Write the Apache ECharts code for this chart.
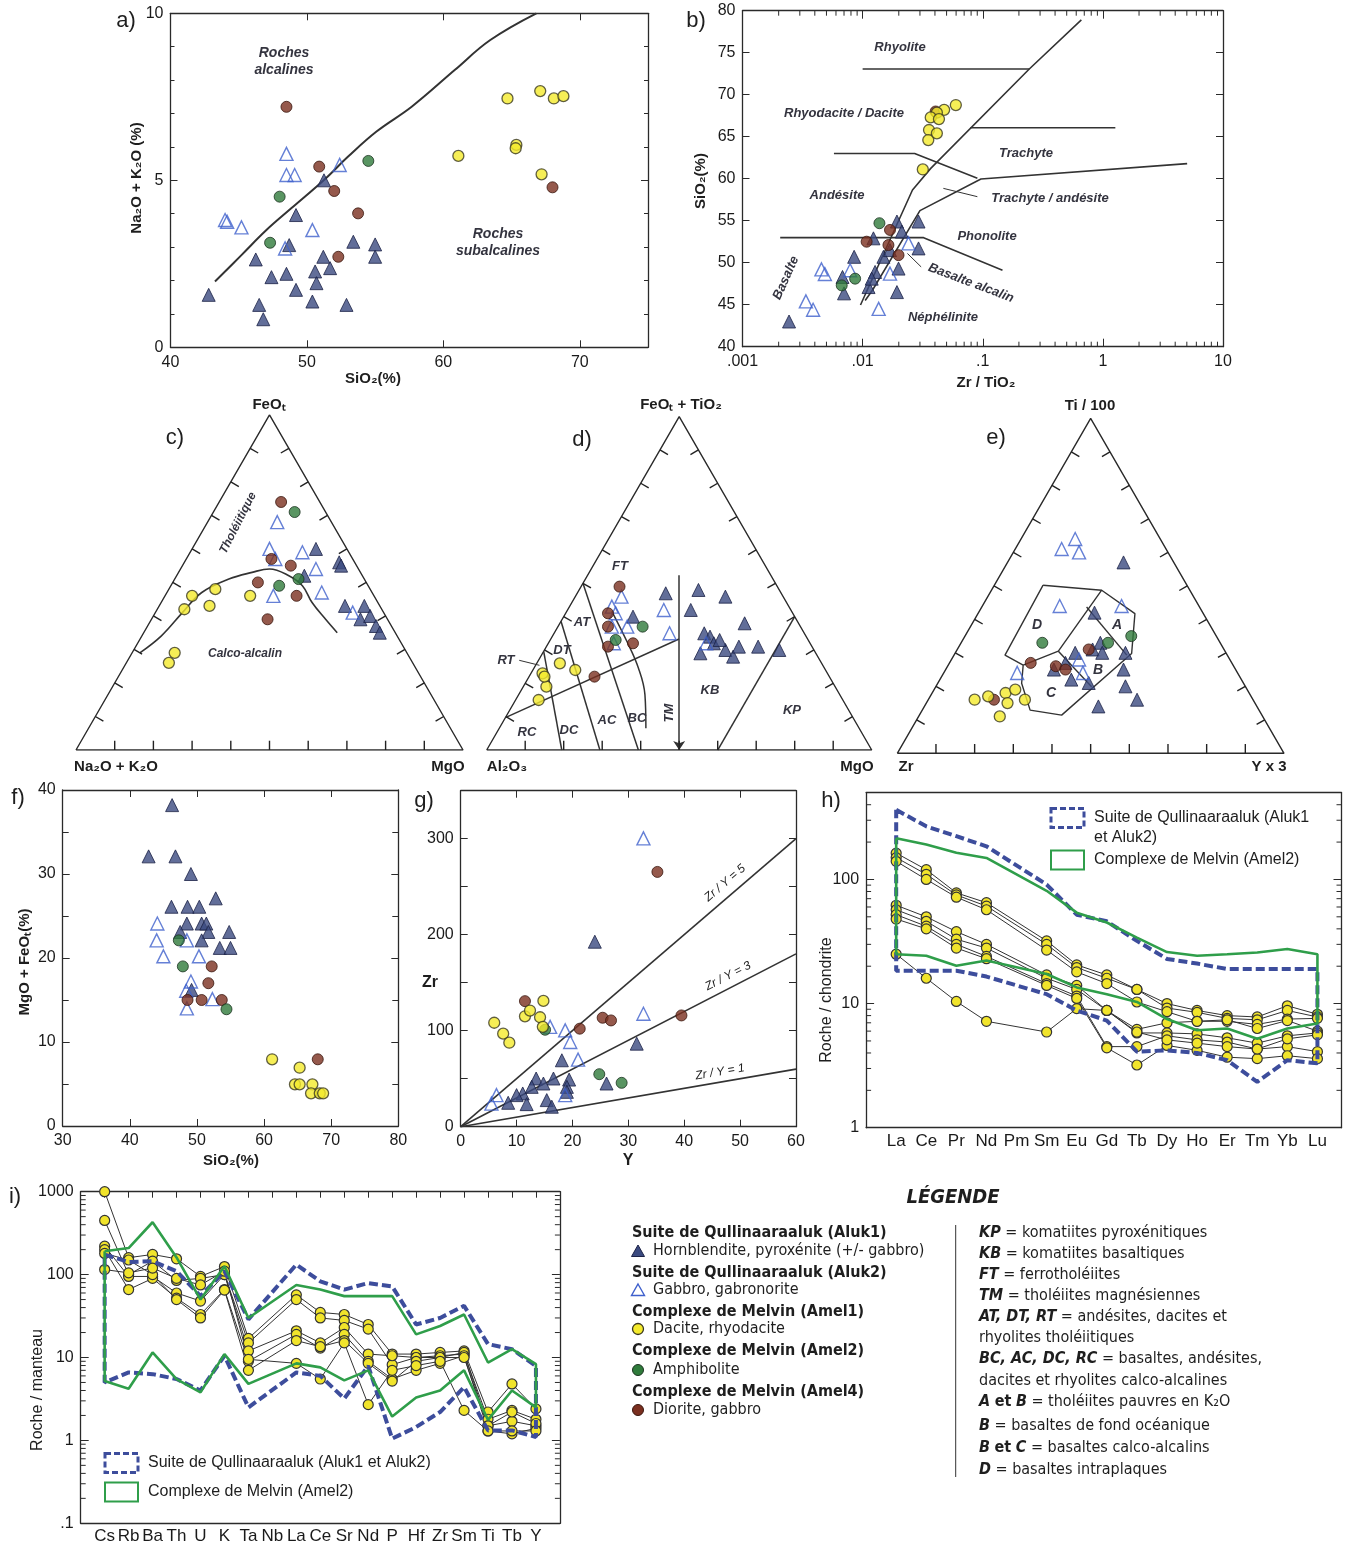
<!DOCTYPE html>
<html><head><meta charset="utf-8">
<script src="https://cdn.jsdelivr.net/npm/echarts@6/dist/echarts.min.js"></script>
<style>html,body{margin:0;padding:0;background:#fff}#c{width:1353px;height:1547px}</style>
</head><body><div id="c"></div>
<script>
// ================= DATA =================
// a) SiO2 vs Na2O+K2O
const aAluk1 = [[42.8,1.57],[46.25,2.63],[46.5,1.27],[46.8,0.84],[47.4,2.1],[48.5,2.2],[48.7,3.06],[49.2,3.96],[49.2,1.72],[50.4,1.37],[50.6,2.27],[50.7,1.92],[51.2,2.71],[51.7,2.37],[51.25,5.0],[52.9,1.27],[53.4,3.16],[55.0,3.08],[55.0,2.71]];
const aAluk2 = [[44.0,3.81],[44.15,3.76],[45.2,3.59],[48.5,5.79],[48.5,5.16],[49.1,5.16],[50.4,3.51],[52.4,5.46],[48.4,2.96]];
const aAmel1 = [[61.1,5.73],[64.7,7.45],[65.35,6.06],[65.3,5.96],[67.1,7.67],[68.1,7.45],[68.8,7.52],[67.2,5.18]];
const aAmel2 = [[54.5,5.58],[48.0,4.51],[47.3,3.13]];
const aAmel4 = [[48.5,7.2],[50.9,5.41],[52.0,4.68],[53.75,4.01],[52.3,2.71],[68.0,4.79]];
const aDivide = [[43.26,1.97],[45.2,2.76],[47.03,3.51],[48.85,4.16],[51.25,5.01],[53.02,5.71],[55.1,6.46],[57.7,7.21],[60.83,8.3],[63.44,9.2],[66.82,10.0]];

// b) Zr/TiO2 vs SiO2
const bAluk1 = [[0.00244,43.0],[0.0070,46.35],[0.0068,48.3],[0.0085,50.7],[0.0193,54.9],[0.0212,53.7],[0.0292,54.9],[0.0292,51.7],[0.0149,50.7],[0.0199,49.3],[0.0127,48.9],[0.0112,47.1],[0.0193,46.5],[0.0169,51.5],[0.0119,48.1],[0.0123,52.9]];
const bAluk2 = [[0.0136,44.5],[0.0241,52.3],[0.0169,48.7],[0.00787,49.1],[0.00454,49.2],[0.00485,48.65],[0.00337,45.4],[0.00387,44.4]];
const bAmel1 = [[0.0597,68.77],[0.0477,68.2],[0.0415,67.86],[0.0369,67.3],[0.0432,67.1],[0.0357,65.8],[0.0415,65.4],[0.0352,64.6],[0.0317,61.1]];
const bAmel2 = [[0.0138,54.7],[0.00866,48.1],[0.0067,47.3]];
const bAmel4 = [[0.0405,68.0],[0.0108,52.5],[0.0169,53.9],[0.0164,52.1],[0.0199,50.9]];
const bBound1 = [[0.662,78.9],[0.244,73.06],[0.0369,61.23],[0.026,58.65],[0.0096,44.96]];
const bBound2 = [[5.03,61.8],[0.0966,59.96],[0.030,56.2],[0.0121,46.75],[0.0105,45.5]];
const bBound3 = [[0.00577,63.0],[0.0271,63.0],[0.0902,60.04]];
const bBound4 = [[0.00206,52.98],[0.0322,52.98],[0.146,49.1]];
const bBound5 = [[0.01,73.06],[0.244,73.06]];
const bBound6 = [[0.0787,66.07],[1.27,66.07]];
const bPointer1 = [[0.047,58.85],[0.0902,57.86]];
const bPointer2 = [[0.0236,51.1],[0.0307,49.5]];

// c) AFM ternary [FeOt, Na2O+K2O, MgO]
const cAluk1 = [[60,8,32],[52,15,33],[56,4,40],[55,4,41],[43,9,48],[43,4,53],[39,7,54],[40,4,56],[37,4,59],[35,4,61]];
const cAluk2 = [[68,14,18],[60,20,20],[57,20,23],[59,12,29],[54,11,35],[46,26,28],[47,13,40],[41,8,51]];
const cAmel1 = [[48,40,12],[46,47,7],[42,51,7],[43,44,13],[46,32,22],[29,60,11],[26,63,11]];
const cAmel2 = [[71,8,21],[49,23,28],[51,17,32]];
const cAmel4 = [[74,10,16],[55,17,28],[50,28,22],[46,20,34],[39,31,30],[57,21,22]];
const cCurve = [[29,69,2],[34,61,5],[41,52,7],[47,44,9],[51,35,14],[53,28,19],[54,23,23],[52,19,29],[49,17,34],[44,17,39],[39,16,45],[35,15,50]];

// d) Jensen ternary [FeOt+TiO2, Al2O3, MgO]
const dAluk1 = [[47,30,23],[48,21,31],[46,15,39],[42,26,32],[40,42,18],[38,14,48],[35,26,39],[34,25,41],[32,25,43],[29,30,41],[30,23,47],[28,22,50],[31,19,50],[31,14,55],[30,9,61],[33,23,44]];
const dAluk2 = [[43,46,11],[46,42,12],[41,46,13],[37,49,14],[37,45,18],[32,51,17],[42,33,25],[35,35,30],[32,27,41]];
const dAmel1 = [[23,74,3],[19,75,6],[15,79,6],[26,68,6],[24,65,11],[22,74,4]];
const dAmel2 = [[37,41,22],[33,50,17]];
const dAmel4 = [[49,41,10],[41,48,11],[31,53,16],[32,46,22],[22,61,17],[37,50,13]];
const dTM = [[52.4,23.9,23.7],[0,50,50]];
const dDiag = [[9.7,90.3,0],[33.3,33.4,33.3]];
const dKP = [[0,40,60],[40,0,60]];
const dLineRC = [[29.6,70.4,0],[0,80.5,19.5]];
const dLineDC = [[38.6,61.4,0],[0,70.6,29.4]];
const dLineAC = [[50,50,0],[0,60.6,39.4]];
const dLineBC = [[41.6,46.7,11.7],[32.6,47.3,20.1],[24.6,48.3,27.1],[16.6,50.6,32.8],[6.5,55.4,38.1]];
const dPointerRT = [[26.9,78.1,-5],[25.4,73.6,1]];

// e) Pearce & Cann ternary [Ti/100, Zr, Y x 3]
const eAluk1 = [[57,13,30],[42,28,30],[33,31,36],[30,39,31],[31,34,35],[30,26,44],[25,47,28],[22,44,34],[21,40,39],[25,29,46],[20,31,49],[16,30,54],[14,41,45],[27,43,30],[30,32,38]];
const eAluk2 = [[64,22,14],[61,27,12],[60,23,17],[44,36,20],[44,20,36],[24,57,19],[28,39,33],[24,40,36]];
const eAmel1 = [[16,72,12],[17,68,15],[18,63,19],[19,60,21],[16,59,25],[15,64,21],[11,68,21]];
const eAmel2 = [[33,46,21],[33,29,38],[35,22,43]];
const eAmel4 = [[27,52,21],[31,35,34],[26,46,28],[16,67,17],[25,44,31]];
const eOuter = [[50.2,37.2,12.6],[48.7,22.8,28.5],[41.7,17.7,40.6],[29.8,24.5,45.7],[11.4,51.8,36.8],[12.9,59.2,27.9],[20.9,57.4,21.7],[26.3,54.3,19.4]];
const eFieldD = [[50.2,37.2,12.6],[29.3,57.5,13.2],[26.3,54.3,19.4],[30.5,43.1,26.4],[48.7,22.8,28.5]];
const eLineAB = [[43.7,29.2,27.1],[29.3,26.0,44.7]];
const eLineBC = [[30.5,43.1,26.4],[19.9,39.8,40.3]];
const ternTicks = [10,20,30,40,50,60,70,80,90];

// f) SiO2 vs MgO+FeOt
const fAluk1 = [[46.3,38.2],[42.8,32.1],[46.8,32.1],[49.1,30.0],[46.2,26.1],[48.6,26.1],[50.35,26.1],[52.8,27.1],[48.5,24.1],[50.7,24.1],[51.4,24.1],[47.5,23.1],[51.7,23.1],[54.8,23.1],[50.7,22.1],[53.4,21.2],[55.0,21.2],[49.2,16.2]];
const fAluk2 = [[44.1,24.1],[44.0,22.1],[45.0,20.2],[48.5,22.1],[50.3,20.2],[49.1,17.2],[48.4,16.1],[48.5,14.0],[52.3,15.1]];
const fAmel1 = [[61.2,7.94],[65.3,6.94],[64.6,4.96],[65.3,4.96],[67.2,4.96],[67.0,3.89],[68.3,3.89],[68.8,3.89]];
const fAmel2 = [[47.3,22.1],[47.9,19.0],[54.4,13.9]];
const fAmel4 = [[52.2,19.0],[51.7,17.0],[48.6,15.0],[50.7,15.0],[53.7,15.0],[68.0,7.94]];

// g) Y vs Zr
const gAluk1 = [[24.0,192.7],[18.1,69.2],[31.5,86.5],[26.1,45],[13.5,50.2],[16.6,50.2],[19.4,49.1],[11.1,34.6],[8.5,24.9],[11.8,23.5],[15.4,27.7],[16.3,20.8],[19.0,41.5],[19.0,36.3],[12.7,41.5],[10.0,32.9],[14.8,45.0]];
const gAluk2 = [[32.7,300.3],[16.0,104],[18.7,100.3],[19.6,88.2],[21.0,69.9],[32.7,117.6],[6.4,32.9],[5.5,24],[18.7,32.9]];
const gAmel1 = [[6.0,108.3],[7.6,96.9],[8.7,87.5],[11.5,115],[12.4,121],[14.2,114],[14.8,131],[14.7,104]];
const gAmel2 = [[15.1,101],[24.8,54.7],[28.8,45.7]];
const gAmel4 = [[11.5,130.8],[21.3,102.1],[25.4,113.5],[26.9,110.7],[35.2,265.4],[39.5,115.9]];
const gRatios = [5, 3, 1];

// h) REE / chondrite
const REE = ['La','Ce','Pr','Nd','Pm','Sm','Eu','Gd','Tb','Dy','Ho','Er','Tm','Yb','Lu'];
const hS1 = [163,120,78,65,null,32,20.5,17,13,10,8.8,8,7.8,9.6,8.2];
const hS2 = [150,110,75,61,null,30,19.5,16,13,9.2,8.5,7.6,7.4,8.8,7.8];
const hS3 = [140,100,72,57,null,27,18,14.5,10.3,8.6,7.2,7.2,6.8,7.5,7.6];
const hS4 = [62,50,38,30,null,17,14,8.8,6.2,7.0,7.2,7.4,6.3,7.3,6.0];
const hS5 = [57,46,33,28,null,16,13,8.8,5.8,5.8,5.7,5.3,4.8,5.5,5.8];
const hS6 = [52,42,30,24,null,14.5,11.5,4.5,4.5,5.5,5.1,4.9,4.3,4.5,4.1];
const hS7 = [48,40,28,23,null,14,11,4.4,3.2,4.6,4.2,3.7,3.6,3.8,3.6];
const hS8 = [25,16,10.4,7.2,null,5.9,9.1,8.8,5.9,5.1,4.8,4.5,4.3,5.2,5.6];
const hQulUp = [364,268,223,185,null,91,52,46,32,22.9,21,19,19,19,19];
const hQulLo = [18.4,18.4,18.4,16.5,null,11.9,8.8,7.3,4.1,4.2,4.0,3.5,2.34,3.5,3.3];
const hMelUp = [215,191,164,149,null,81,54,45,34,26,24.3,25,25.8,27.5,25];
const hMelLo = [25,24.3,20.2,22.2,null,17.3,13.5,11.9,10.3,7.5,6.1,6.3,5.2,6.3,6.9];

// i) spider / primitive mantle
const SPK = ['Cs','Rb','Ba','Th','U','K','Ta','Nb','La','Ce','Sr','Nd','P','Hf','Zr','Sm','Ti','Tb','Y'];
const iS1 = [1000,160,175,155,95,125,17,null,57,35,33,25,11,11,11.5,12,2.2,4.8,2.4];
const iS2 = [450,100,145,85,90,100,15,null,50,30,28,22,8.2,10,10.5,11,1.8,2.3,1.8];
const iS3 = [220,95,95,60,48,100,12,null,21,15,23,11,10.5,10,10,11.5,1.5,1.7,1.5];
const iS4 = [200,66,90,52,33,66,9,null,19,13,19,9,5.5,7,8.5,10.5,1.3,1.2,1.4];
const iS5 = [180,150,100,50,30,65,7,null,16,13.5,16,8.5,5.2,9,10,10,1.5,2.2,1.6];
const iS6 = [115,105,120,90,75,110,9.5,null,8.5,5.5,15,2.7,7,8,9,2.3,1.3,1.3,1.3];
const iQulUp = [174,142,145,110,55,110,28.8,null,132,83,66,79,72,25,30,42,14.5,12.6,7.9];
const iQulLo = [5.0,6.6,6.3,5.5,4.0,10.5,2.5,null,6.6,6.0,3.2,7.9,1.05,1.45,2.2,4.4,1.32,1.32,1.1];
const iMelUp = [191,209,428,161,50,126,30,null,75,66,55,55,55,19,24,33,8.7,12.6,8.3];
const iMelLo = [5.2,4.2,11.5,5.5,3.8,11,4.8,null,8.5,7.6,5.3,7.0,1.94,3.3,4.0,7.0,1.77,4.0,2.5];

// ================= BUILD =================
const FONT = "'Liberation Sans', Arial, Helvetica, sans-serif";
const NARROW = "'Liberation Sans Narrow', 'Arial Narrow', 'DejaVu Sans Condensed', 'Liberation Sans', sans-serif";
const S3 = Math.sqrt(3) / 2;
const LINE = '#2a2a2a';
const STY = {
  aluk1: {symbol:'triangle', symbolSize:13, itemStyle:{color:'#3b4a80', borderColor:'#1c2246', borderWidth:1}},
  aluk2: {symbol:'triangle', symbolSize:13, itemStyle:{color:'rgba(255,255,255,0)', borderColor:'#3f60cc', borderWidth:1.4}},
  amel1: {symbol:'circle', symbolSize:11, itemStyle:{color:'#f4ea2c', borderColor:'#3a3820', borderWidth:1.3}},
  amel2: {symbol:'circle', symbolSize:11, itemStyle:{color:'#2f7b3b', borderColor:'#1b3320', borderWidth:1}},
  amel4: {symbol:'circle', symbolSize:11, itemStyle:{color:'#7a2f1f', borderColor:'#3a160e', borderWidth:1}},
};
const grids = [], xAxis = [], yAxis = [], series = [], gfx = [];
function grid(l, t, w, h) { grids.push({left:l, top:t, width:w, height:h, containLabel:false}); return grids.length - 1; }
function push(arr, o) { arr.push(o); return arr.length - 1; }
const tick = (len, show = true) => ({show, inside:true, length:len, lineStyle:{color:LINE, width:1}});
const aline = {show:true, onZero:false, lineStyle:{color:LINE, width:1.3}};
const lab = (o = {}) => Object.assign({show:true, color:'#1a1a1a', fontSize:16, fontFamily:FONT, margin:7}, o);
const noSplit = {show:false};
function cart(g, xo, yo, topTick) {
  const base = {gridIndex:g, splitLine:noSplit, minorSplitLine:noSplit, axisLine:aline};
  const xi = push(xAxis, Object.assign({}, base, {position:'bottom'}, xo));
  const xt = Object.assign({}, base, {position:'top'}, xo, {axisLabel:{show:false}});
  if (topTick) xt.axisTick = topTick;
  push(xAxis, xt);
  const yi = push(yAxis, Object.assign({}, base, {position:'left'}, yo));
  push(yAxis, Object.assign({}, base, {position:'right'}, yo, {axisLabel:{show:false}}));
  return [xi, yi];
}
function scat(xi, yi, data, sty) {
  return Object.assign({type:'scatter', xAxisIndex:xi, yAxisIndex:yi, data, z:4, silent:true}, JSON.parse(JSON.stringify(sty)));
}
function poly(xi, yi, pts, color, width, type, z, smooth) {
  return {type:'line', xAxisIndex:xi, yAxisIndex:yi, data:pts, symbol:'none', showSymbol:false, silent:true,
    smooth:smooth || false, lineStyle:{color, width, type:type || 'solid'}, z:z || 2};
}
function logFmt(v) { const e = Math.round(Math.log10(v)); return e < 0 ? '.' + '0'.repeat(-e - 1) + '1' : String(Math.round(Math.pow(10, e))); }
function logMinor(xi, yi, dir, eRange, maxV, other, len) {
  const vals = [];
  for (let e = eRange[0]; e < eRange[1]; e++) for (let k = 2; k <= 9; k++) { const v = k * Math.pow(10, e); if (v < maxV * 0.999) vals.push(v); }
  return {type:'custom', xAxisIndex:xi, yAxisIndex:yi, silent:true, z:6, clip:false,
    data: vals.map(v => dir === 'x' ? [v, other[0]] : [other[0], v]),
    renderItem: (params, api) => {
      const v = api.value(dir === 'x' ? 0 : 1);
      const st = {stroke:LINE, lineWidth:1};
      if (dir === 'x') {
        const a = api.coord([v, other[0]]), b = api.coord([v, other[1]]);
        return {type:'group', children:[
          {type:'line', shape:{x1:a[0], y1:a[1], x2:a[0], y2:a[1] - len}, style:st},
          {type:'line', shape:{x1:b[0], y1:b[1], x2:b[0], y2:b[1] + len}, style:st}]};
      }
      const a = api.coord([other[0], v]), b = api.coord([other[1], v]);
      return {type:'group', children:[
        {type:'line', shape:{x1:a[0], y1:a[1], x2:a[0] + len, y2:a[1]}, style:st},
        {type:'line', shape:{x1:b[0], y1:b[1], x2:b[0] - len, y2:b[1]}, style:st}]};
    }};
}
function tern(p) { const s = p[0] + p[1] + p[2]; const tt = p[0] / s, rr = p[2] / s; return [rr + tt / 2, tt * S3]; }
function ternGrid(l, baseY, w) {
  const h = w * S3; const g = grid(l, baseY - h, w, h);
  const xi = push(xAxis, {gridIndex:g, type:'value', min:0, max:1, show:false});
  const yi = push(yAxis, {gridIndex:g, type:'value', min:0, max:S3, show:false});
  series.push(poly(xi, yi, [[0,100,0],[0,0,100],[100,0,0],[0,100,0]].map(tern), LINE, 1.4));
  // edge ticks every 10 %, mapped with the same linear transform as this grid's axes
  const toPx = p => [l + p[0] * w, baseY - (p[1] / S3) * h];
  const TK = 0.024;
  ternTicks.forEach(t => {
    const pb = tern([0, 100 - t, t]), pl = tern([t, 100 - t, 0]), pr = tern([t, 0, 100 - t]);
    [[pb, [pb[0], pb[1] + TK]], [pl, [pl[0] + S3 * TK, pl[1] - 0.5 * TK]], [pr, [pr[0] - S3 * TK, pr[1] - 0.5 * TK]]].forEach(seg => {
      const a = toPx(seg[0]), b = toPx(seg[1]);
      gfx.push({type:'line', silent:true, z:90, shape:{x1:a[0], y1:a[1], x2:b[0], y2:b[1]}, style:{stroke:'#222', lineWidth:1.4}});
    });
  });
  return [xi, yi];
}
function groups(xi, yi, g1, g2, m1, m2, m4, map) {
  const f = map || (p => p);
  series.push(scat(xi, yi, g1.map(f), STY.aluk1));
  series.push(scat(xi, yi, g2.map(f), STY.aluk2));
  series.push(scat(xi, yi, m4.map(f), STY.amel4));
  series.push(scat(xi, yi, m2.map(f), STY.amel2));
  series.push(scat(xi, yi, m1.map(f), STY.amel1));
}
function T(x, y, text, o = {}) {
  const st = {text, fill:o.color || '#1e1e1e', fontSize:o.size || 16, fontWeight:o.bold ? 'bold' : 'normal',
    fontStyle:o.italic ? 'italic' : 'normal', fontFamily:o.family || FONT,
    align:o.align || 'center', verticalAlign:'middle', textAlign:o.align || 'center', textVerticalAlign:'middle'};
  if (o.lh) st.lineHeight = o.lh;
  if (o.rich) st.rich = o.rich;
  gfx.push({type:'text', x, y, rotation:o.rot || 0, silent:true, z:100, style:st});
}

// ---- a ----
{
  const g = grid(170.5, 13.3, 477.5, 334);
  const [xi, yi] = cart(g,
    {type:'value', min:40, max:75, interval:10, axisTick:tick(7), axisLabel:lab({showMaxLabel:false})},
    {type:'value', min:0, max:10, interval:5, axisTick:tick(7), minorTick:{show:true, splitNumber:5, length:4, lineStyle:{color:LINE}}, axisLabel:lab()});
  series.push(poly(xi, yi, aDivide, '#333', 2, 'solid', 2, 0.4));
  groups(xi, yi, aAluk1, aAluk2, aAmel1, aAmel2, aAmel4);
}
// ---- b ----
{
  const g = grid(742.5, 10.7, 480.5, 336);
  const [xi, yi] = cart(g,
    {type:'log', logBase:10, min:0.001, max:10, axisTick:tick(8), axisLabel:lab({formatter:logFmt})},
    {type:'value', min:40, max:80, interval:5, axisTick:tick(7), axisLabel:lab()});
  series.push(logMinor(xi, yi, 'x', [-3, 1], 10, [40, 80], 5));
  [bBound1, bBound2, bBound3, bBound4, bBound5, bBound6].forEach(l => series.push(poly(xi, yi, l, '#333', 1.6)));
  [bPointer1, bPointer2].forEach(l => series.push(poly(xi, yi, l, '#333', 1)));
  groups(xi, yi, bAluk1, bAluk2, bAmel1, bAmel2, bAmel4);
}
// ---- c ----
{
  const [xi, yi] = ternGrid(76, 750, 387);
  series.push(poly(xi, yi, cCurve.map(tern), '#333', 1.6, 'solid', 2, 0.4));
  groups(xi, yi, cAluk1, cAluk2, cAmel1, cAmel2, cAmel4, tern);
}
// ---- d ----
{
  const [xi, yi] = ternGrid(486.7, 750, 385);
  [dDiag, dKP, dLineRC, dLineDC, dLineAC].forEach(l => series.push(poly(xi, yi, l.map(tern), '#333', 1.5)));
  series.push(poly(xi, yi, dLineBC.map(tern), '#333', 1.5, 'solid', 2, 0.4));
  series.push(poly(xi, yi, dPointerRT.map(tern), '#333', 1));
  series.push({type:'lines', coordinateSystem:'cartesian2d', xAxisIndex:xi, yAxisIndex:yi, silent:true, z:2,
    symbol:['none','arrow'], symbolSize:9, data:[{coords:dTM.map(tern)}], lineStyle:{color:'#333', width:1.5, opacity:1}});
  groups(xi, yi, dAluk1, dAluk2, dAmel1, dAmel2, dAmel4, tern);
}
// ---- e ----
{
  const [xi, yi] = ternGrid(897.3, 753.3, 386.7);
  [eOuter, eFieldD, eLineAB, eLineBC].forEach(l => series.push(poly(xi, yi, l.map(tern), '#333', 1.4)));
  groups(xi, yi, eAluk1, eAluk2, eAmel1, eAmel2, eAmel4, tern);
}
// ---- f ----
{
  const g = grid(62.7, 790, 335.6, 336);
  const [xi, yi] = cart(g,
    {type:'value', min:30, max:80, interval:10, axisTick:tick(7), axisLabel:lab()},
    {type:'value', min:0, max:40, interval:10, axisTick:tick(7), minorTick:{show:true, splitNumber:2, length:6, lineStyle:{color:LINE}}, axisLabel:lab()});
  groups(xi, yi, fAluk1, fAluk2, fAmel1, fAmel2, fAmel4);
}
// ---- g ----
{
  const g = grid(460.7, 790.7, 335.3, 336);
  const [xi, yi] = cart(g,
    {type:'value', min:0, max:60, interval:10, axisTick:tick(7), axisLabel:lab()},
    {type:'value', min:0, max:350, interval:50, axisTick:tick(7), axisLabel:lab({formatter:v => v % 100 === 0 ? String(v) : ''})});
  gRatios.forEach(r => series.push(poly(xi, yi, [[0, 0], [60, 60 * r]], '#333', 1.6)));
  groups(xi, yi, gAluk1, gAluk2, gAmel1, gAmel2, gAmel4);
}
// ---- h ----
function pairs(arr) { return arr.map((v, i) => v == null ? null : [i, v]).filter(Boolean); }
function envelope(up, lo) { const u = pairs(up), l = pairs(lo).reverse(); return u.concat(l, [u[0]]); }
function spider(xi, yi, arr) {
  return {type:'line', xAxisIndex:xi, yAxisIndex:yi, data:pairs(arr), silent:true, z:3,
    symbol:'circle', symbolSize:10, showSymbol:true,
    itemStyle:{color:'#f1e42b', borderColor:'#333', borderWidth:1.2},
    lineStyle:{color:'#333', width:1}};
}
{
  const g = grid(866.1, 792.7, 475.4, 335);
  const [xi, yi] = cart(g,
    {type:'value', min:-1, max:14.8, interval:1, axisTick:tick(0, false), axisLabel:lab({fontSize:17, margin:5, formatter:v => REE[v] || ''})},
    {type:'log', logBase:10, min:1, max:500, axisTick:tick(8), axisLabel:lab({showMaxLabel:false, formatter:logFmt})});
  series.push(logMinor(xi, yi, 'y', [0, 3], 500, [-1, 14.8], 5));
  [hS1, hS2, hS3, hS4, hS5, hS6, hS7, hS8].forEach(s => series.push(spider(xi, yi, s)));
  series.push(poly(xi, yi, envelope(hQulUp, hQulLo), '#3d4d9c', 4, [9, 4], 5));
  series.push(poly(xi, yi, envelope(hMelUp, hMelLo), '#2f9e4a', 2.6, 'solid', 5));
}
// ---- i ----
{
  const g = grid(80.7, 1191.7, 479.2, 331.6);
  const [xi, yi] = cart(g,
    {type:'value', min:-1, max:19, interval:1, axisTick:tick(0, false), axisLabel:lab({fontSize:17, margin:5, formatter:v => SPK[v] || ''})},
    {type:'log', logBase:10, min:0.1, max:1000, axisTick:tick(8), axisLabel:lab({formatter:logFmt})},
    tick(6));
  series.push(logMinor(xi, yi, 'y', [-1, 3], 1000, [-1, 19], 5));
  [iS1, iS2, iS3, iS4, iS5, iS6].forEach(s => series.push(spider(xi, yi, s)));
  series.push(poly(xi, yi, envelope(iQulUp, iQulLo), '#3d4d9c', 4, [9, 4], 5));
  series.push(poly(xi, yi, envelope(iMelUp, iMelLo), '#2f9e4a', 2.6, 'solid', 5));
}

// ================= TEXT =================
[['a)',126,21],['b)',696,21],['c)',175,438],['d)',582,440],['e)',996,438],['f)',18,798],['g)',424,801],['h)',831,801],['i)',15,1197]]
  .forEach(([t, x, y]) => T(x, y, t, {size:22}));
const AX = {bold:true, size:15};
T(137, 178, 'Na₂O + K₂O (%)', Object.assign({rot:Math.PI / 2}, AX));
T(373, 379, 'SiO₂(%)', AX);
T(701, 181, 'SiO₂(%)', Object.assign({rot:Math.PI / 2}, AX));
T(986, 383, 'Zr / TiO₂', AX);
T(25, 962, 'MgO + FeOₜ(%)', Object.assign({rot:Math.PI / 2}, AX));
T(231, 1161, 'SiO₂(%)', AX);
T(430, 983, 'Zr', {bold:true, size:16});
T(628, 1161, 'Y', {bold:true, size:16});
T(827, 1000, 'Roche / chondrite', {size:16, rot:Math.PI / 2});
T(38, 1390, 'Roche / manteau', {size:16, rot:Math.PI / 2});
T(269, 405, 'FeOₜ', AX); T(116, 767, 'Na₂O + K₂O', AX); T(448, 767, 'MgO', AX);
T(681, 405, 'FeOₜ + TiO₂', AX); T(507, 767, 'Al₂O₃', AX); T(857, 767, 'MgO', AX);
T(1090, 406, 'Ti / 100', AX); T(906, 767, 'Zr', AX); T(1269, 767, 'Y x 3', AX);
const BI = (size, extra) => Object.assign({bold:true, italic:true, size, color:'#34343f'}, extra || {});
T(284, 62, 'Roches\nalcalines', BI(14, {lh:17}));
T(498, 243, 'Roches\nsubalcalines', BI(14, {lh:17}));
T(900, 47, 'Rhyolite', BI(13)); T(844, 113, 'Rhyodacite / Dacite', BI(13)); T(1026, 153, 'Trachyte', BI(13));
T(837, 195, 'Andésite', BI(13)); T(1050, 198, 'Trachyte / andésite', BI(13)); T(987, 236, 'Phonolite', BI(13));
T(971, 283, 'Basalte alcalin', BI(13, {rot:-0.36})); T(786, 278, 'Basalte', BI(13, {rot:1.15})); T(943, 317, 'Néphélinite', BI(13));
T(238, 523, 'Tholéiitique', BI(12, {rot:1.1})); T(245, 654, 'Calco-alcalin', BI(12));
[['FT',620,566],['AT',582,622],['DT',562,650],['RT',506,660],['RC',527,732],['DC',569,730],['AC',607,720],['BC',637,718],['KB',710,690],['KP',792,710]]
  .forEach(([t, x, y]) => T(x, y, t, BI(13)));
T(669, 713, 'TM', BI(13, {rot:Math.PI / 2}));
[['D',1037,625],['A',1117,625],['B',1098,670],['C',1051,693]].forEach(([t, x, y]) => T(x, y, t, BI(14)));
T(725, 883, 'Zr / Y = 5', {italic:true, size:12, rot:0.71});
T(728, 976, 'Zr / Y = 3', {italic:true, size:12, rot:0.477});
T(720, 1072, 'Zr / Y = 1', {italic:true, size:12, rot:0.17});

// legends in h and i
function envLegend(x, y1, y2, lines1, line2) {
  gfx.push({type:'rect', silent:true, z:100, shape:{x, y:y1 - 9.5, width:33, height:19}, style:{fill:'none', stroke:'#3d4d9c', lineWidth:3, lineDash:[6, 3]}});
  gfx.push({type:'rect', silent:true, z:100, shape:{x, y:y2 - 9.5, width:33, height:19}, style:{fill:'none', stroke:'#2f9e4a', lineWidth:2}});
  lines1.forEach((t, k) => T(x + 43, y1 + k * 20, t, {align:'left', size:16}));
  T(x + 43, y2, line2, {align:'left', size:16});
}
envLegend(1051, 818, 860, ['Suite de Qullinaaraaluk (Aluk1', 'et Aluk2)'], 'Complexe de Melvin (Amel2)');
envLegend(105, 1463, 1492, ['Suite de Qullinaaraaluk (Aluk1 et Aluk2)'], 'Complexe de Melvin (Amel2)');

// main legend
T(953, 1198, 'LÉGENDE', {bold:true, italic:true, size:20, family:NARROW});
const legendHeads = ['Suite de Qullinaaraaluk (Aluk1)', 'Suite de Qullinaaraaluk (Aluk2)', 'Complexe de Melvin (Amel1)', 'Complexe de Melvin (Amel2)', 'Complexe de Melvin (Amel4)'];
const legendItems = ['Hornblendite, pyroxénite (+/- gabbro)', 'Gabbro, gabronorite', 'Dacite, rhyodacite', 'Amphibolite', 'Diorite, gabbro'];
const legendKeys = ['aluk1', 'aluk2', 'amel1', 'amel2', 'amel4'];
const headY = [1233, 1273, 1312, 1351, 1392], itemY = [1251, 1290, 1329, 1370, 1410];
legendHeads.forEach((h, k) => {
  T(632, headY[k], h, {align:'left', bold:true, size:16, family:NARROW});
  T(653, itemY[k], legendItems[k], {align:'left', size:16, family:NARROW});
  const s = STY[legendKeys[k]].itemStyle, cx = 638, cy = itemY[k];
  if (k < 2) gfx.push({type:'polygon', silent:true, z:100, shape:{points:[[cx, cy - 6], [cx + 6.5, cy + 5.5], [cx - 6.5, cy + 5.5]]}, style:{fill:s.color, stroke:s.borderColor, lineWidth:s.borderWidth}});
  else gfx.push({type:'circle', silent:true, z:100, shape:{cx, cy, r:5.5}, style:{fill:s.color, stroke:s.borderColor, lineWidth:s.borderWidth}});
});
gfx.push({type:'line', silent:true, z:100, shape:{x1:955.7, y1:1225, x2:955.7, y2:1477}, style:{stroke:'#333', lineWidth:1}});
const RICH = {b:{fontWeight:'bold', fontStyle:'italic', fontSize:16, fontFamily:NARROW}, n:{fontWeight:'bold', fontSize:16, fontFamily:NARROW}};
const abbrev = ['{b|KP} = komatiites pyroxénitiques', '{b|KB} = komatiites basaltiques', '{b|FT} = ferrotholéiites', '{b|TM} = tholéiites magnésiennes',
  '{b|AT, DT, RT} = andésites, dacites et', 'rhyolites tholéiitiques', '{b|BC, AC, DC, RC} = basaltes, andésites,', 'dacites et rhyolites calco-alcalines',
  '{b|A} {n|et} {b|B} = tholéiites pauvres en K₂O', '{b|B} = basaltes de fond océanique', '{b|B} {n|et} {b|C} = basaltes calco-alcalins', '{b|D} = basaltes intraplaques'];
const abbrevY = [1233, 1254, 1275, 1296, 1317, 1338, 1359, 1381, 1402, 1426, 1448, 1470];
abbrev.forEach((t, k) => T(979, abbrevY[k], t, {align:'left', size:16, family:NARROW, rich:RICH}));

const chart = echarts.init(document.getElementById('c'), null, {renderer:'canvas', width:1353, height:1547});
chart.setOption({animation:false, backgroundColor:'#ffffff', grid:grids, xAxis, yAxis, series, graphic:{elements:gfx}});
</script></body></html>
